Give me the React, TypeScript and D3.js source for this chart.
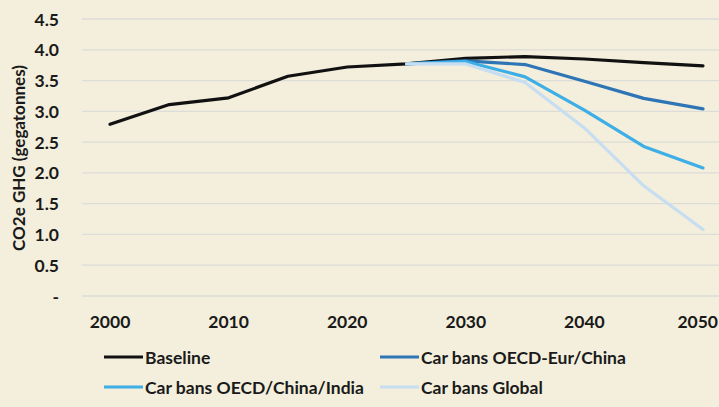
import React from 'react';
import * as d3 from 'd3';

const years = [2000, 2005, 2010, 2015, 2020, 2025, 2030, 2035, 2040, 2045, 2050];
const scenarioYears = [2025, 2030, 2035, 2040, 2045, 2050];

const baseline = [2.79, 3.11, 3.22, 3.57, 3.72, 3.77, 3.86, 3.89, 3.85, 3.79, 3.74];
const bansEurChina = [3.77, 3.82, 3.76, 3.49, 3.21, 3.04];
const bansChinaIndia = [3.77, 3.81, 3.56, 3.02, 2.43, 2.08];
const bansGlobal = [3.77, 3.77, 3.47, 2.73, 1.79, 1.08];

const yTicks = [0, 0.5, 1, 1.5, 2, 2.5, 3, 3.5, 4, 4.5];
const xTicks = [2000, 2010, 2020, 2030, 2040, 2050];

const series = [
  { label: 'Baseline', color: '#111111', xs: years, ys: baseline },
  { label: 'Car bans OECD-Eur/China', color: '#2E75B6', xs: scenarioYears, ys: bansEurChina },
  { label: 'Car bans OECD/China/India', color: '#3DAEE6', xs: scenarioYears, ys: bansChinaIndia },
  { label: 'Car bans Global', color: '#C7DDF1', xs: scenarioYears, ys: bansGlobal },
];

const W = 719;
const H = 407;
const font = 'Lato, "Open Sans", sans-serif';
const fs = 17.5;

export default function App() {
  const x = d3.scaleLinear().domain([2000, 2050]).range([110, 703]);
  const y = d3.scaleLinear().domain([0, 4.5]).range([296, 19]);

  const line = d3.line<[number, number]>()
    .x(d => x(d[0]))
    .y(d => y(d[1]));

  // legend slots: two columns, two rows
  const legendPos = [
    { lx: 104, ly: 357 },
    { lx: 380, ly: 357 },
    { lx: 104, ly: 387 },
    { lx: 380, ly: 387 },
  ];

  return (
    <svg width={W} height={H} style={{ position: 'absolute', top: 0, left: 0, display: 'block' }}>
      <rect width={W} height={H} fill="#F3EFDC" />

      {/* grid */}
      {yTicks.map(t => (
        <g key={t}>
          <line x1={82} x2={W} y1={y(t)} y2={y(t)} stroke="#DCDCD8" strokeWidth={1.3} />
          <text x={59} y={y(t)} textAnchor="end" dominantBaseline="central"
            fontFamily={font} fontWeight={700} fontSize={fs} fill="#1a1a1a">
            {t === 0 ? '-' : d3.format('.1f')(t)}
          </text>
        </g>
      ))}

      {xTicks.map((t, i) => {
        const last = i === xTicks.length - 1;
        return (
          <text key={t} x={last ? W - 1 : x(t)} y={321} textAnchor={last ? 'end' : 'middle'} dominantBaseline="central"
            fontFamily={font} fontWeight={700} fontSize={fs} fill="#1a1a1a">
            {t}
          </text>
        );
      })}

      <text transform={`translate(18,158) rotate(-90)`} textAnchor="middle" dominantBaseline="central"
        fontFamily={font} fontWeight={700} fontSize={17} fill="#1a1a1a">
        CO2e GHG (gegatonnes)
      </text>

      {series.map(s => (
        <path key={s.label}
          d={line(s.xs.map((yr, i) => [yr, s.ys[i]] as [number, number])) || ''}
          fill="none" stroke={s.color} strokeWidth={3.2} strokeLinejoin="round" strokeLinecap="round" />
      ))}

      {series.map((s, i) => {
        const p = legendPos[i];
        return (
          <g key={s.label}>
            <line x1={p.lx} x2={p.lx + 39} y1={p.ly} y2={p.ly} stroke={s.color} strokeWidth={3.2} />
            <text x={p.lx + 41} y={p.ly} dominantBaseline="central"
              fontFamily={font} fontWeight={700} fontSize={fs} fill="#1a1a1a">
              {s.label}
            </text>
          </g>
        );
      })}
    </svg>
  );
}
